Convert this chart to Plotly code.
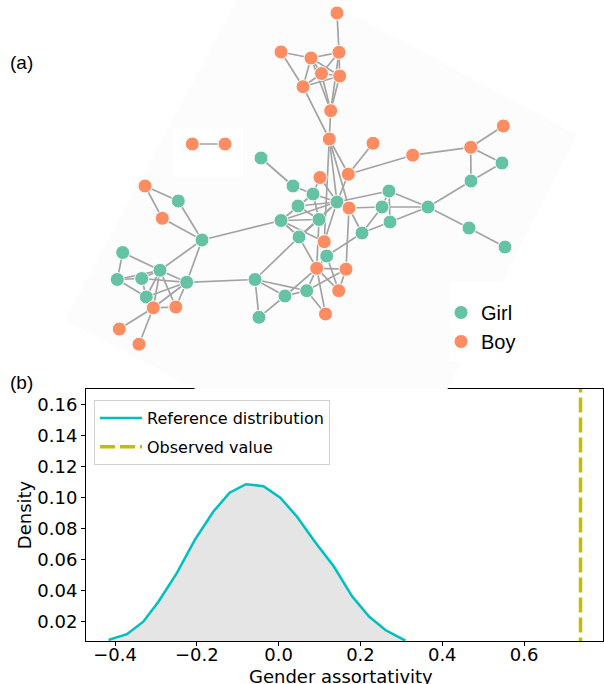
import plotly.graph_objects as go

# ---------------- Panel (a): network data ----------------
girl_names = ["G1","G2","G3","G4","G5","G6","G7","G8","G9","G10","G11","G12","G13","G14","G15",
              "G16","G17","G18","G19","G20","G21","G22","G23","G24","G25","G26","G27","G28","G29","G30"]
girl_x = [261,502,471,428,469,505,293,313,298,337,389,382,390,281,319,
          362,299,326.7,255,285,306.7,259,178.3,202,122.7,160,117.3,141.7,186.7,146.3]
girl_y = [158,163,181,207,228,247,186,194,206,202,191,207,222,220.5,219.5,
          233,237,256,279.5,296,290.7,317.3,201,240,252.5,270.3,279.5,278.5,282.3,297]

boy_names = ["B0","B1","B2","B3","B4","B5","B6","B7","B8","B9","B10","B11","B12","B13","B14",
             "B15","B16","B17","B18","B19","B20","B21","B22","B23","B24","B25","B26","P1","P2"]
boy_x = [337,281,311,339,321.5,339.7,303,330.7,329.3,320,373,412.7,470.7,503.3,348.3,
         349,324.2,316.7,346,338.7,325.5,145,162.3,153.3,175.8,119.3,139,192.3,225]
boy_y = [13,52,58,52.3,73.5,76,86.7,110.7,139,177.5,143.3,155.2,147.3,126,174.2,
         208,241.7,268.3,269.2,290.7,314,186,218.3,307.8,307,329,344.2,144,144]

edges = [
    ("B0","B3"),("B1","B2"),("B1","B6"),("B2","B3"),("B2","B4"),("B2","B5"),("B2","B6"),
    ("B3","B4"),("B3","B5"),("B4","B5"),("B4","B6"),("B5","B6"),("B4","B7"),("B5","B7"),
    ("B2","B7"),("B3","B7"),("B7","B8"),("B6","B8"),
    ("B8","G10"),("B8","B15"),("B8","B14"),("B8","B16"),
    ("B10","B14"),("B11","B14"),("B14","G10"),("B9","G8"),("B9","G10"),
    ("G1","G7"),("G7","G8"),("G8","G10"),("G8","G14"),("G8","G15"),("G9","G10"),("G9","G15"),
    ("G14","G10"),("G14","G15"),("G14","G17"),("G14","G24"),("G10","G15"),("G10","G17"),
    ("G10","G11"),("G10","B15"),("G15","G17"),("G15","B17"),("G17","B17"),("G17","G19"),
    ("B16","G10"),("B16","G14"),("B16","G18"),
    ("G11","G12"),("G11","G13"),("G11","G4"),("G12","G4"),("G13","G4"),("G12","B15"),
    ("G12","G16"),("G13","G16"),("G16","B15"),("G16","G18"),("B15","B18"),
    ("G18","B17"),("G18","B19"),("B17","B18"),("B17","B19"),("B17","B20"),("B17","G20"),
    ("B17","G21"),("B18","B19"),("B18","G21"),("B20","G21"),
    ("G19","G20"),("G19","G21"),("G19","G22"),("G19","G29"),("G20","G21"),("G20","G22"),
    ("G3","G4"),("G4","G5"),("G5","G6"),("B12","G3"),("B12","G2"),("G2","G3"),
    ("B12","B13"),("B11","B12"),
    ("B21","G23"),("B21","B22"),("G23","G24"),("B22","G24"),("G24","G26"),("G24","G29"),
    ("G25","G26"),("G25","G27"),("G27","G28"),("G27","G26"),("G27","G30"),("G28","G26"),
    ("G28","G29"),("G28","G30"),("G26","G30"),("G26","B23"),("G26","B24"),("G26","G29"),
    ("G29","B23"),("G29","B24"),("G29","G30"),("B23","B24"),("B23","B25"),("B23","B26"),
    ("G30","B23"),("P1","P2"),
]

# ---------------- Panel (b): density data ----------------
ref_x = [-0.416, -0.371, -0.331, -0.294, -0.249, -0.205, -0.160, -0.120, -0.080,
         -0.037, 0.004, 0.045, 0.089, 0.135, 0.180, 0.221, 0.261, 0.310]
ref_y = [0.0082, 0.0119, 0.0200, 0.0329, 0.0513, 0.0728, 0.0910, 0.1033, 0.1088,
         0.1075, 0.1001, 0.0878, 0.0715, 0.0556, 0.0362, 0.0233, 0.0146, 0.0077]
observed_value = 0.738
x_ticks = [-0.4, -0.2, 0.0, 0.2, 0.4, 0.6]
y_ticks = [0.02, 0.04, 0.06, 0.08, 0.10, 0.12, 0.14, 0.16]
x_range = [-0.471, 0.793]
y_range = [0.0075, 0.1703]

W, H = 604, 684
NET_BOTTOM = 389  # px

pos = {}
for n, x, y in zip(girl_names, girl_x, girl_y):
    pos[n] = (x, y)
for n, x, y in zip(boy_names, boy_x, boy_y):
    pos[n] = (x, y)

ex, ey = [], []
for a, b in edges:
    ex += [pos[a][0], pos[b][0], None]
    ey += [pos[a][1], pos[b][1], None]

fig = go.Figure()

fig.add_trace(go.Scatter(x=ex, y=ey, mode="lines", line=dict(color="#a3a3a3", width=1.7),
                         hoverinfo="skip", showlegend=False, xaxis="x2", yaxis="y2"))
fig.add_trace(go.Scatter(x=girl_x, y=girl_y, mode="markers", name="Girl",
                         marker=dict(color="#66c2a5", size=14, line=dict(color="white", width=1)),
                         xaxis="x2", yaxis="y2", legend="legend2"))
fig.add_trace(go.Scatter(x=boy_x, y=boy_y, mode="markers", name="Boy",
                         marker=dict(color="#fc8d62", size=14, line=dict(color="white", width=1)),
                         xaxis="x2", yaxis="y2", legend="legend2"))

fig.add_trace(go.Scatter(x=ref_x, y=ref_y, mode="lines", line=dict(width=0),
                         fill="tozeroy", fillcolor="#e5e5e5", showlegend=False,
                         hoverinfo="skip"))
fig.add_trace(go.Scatter(x=ref_x, y=ref_y, mode="lines", name="Reference distribution",
                         legendgroup="ref", line=dict(color="#00bfbf", width=2.5)))
fig.add_trace(go.Scatter(x=[observed_value, observed_value], y=[0, 1], mode="lines",
                         name="Observed value", legendgroup="obs",
                         line=dict(color="#bfbf00", width=3.5, dash="15px,5px")))

axis_font = dict(family="DejaVu Sans", size=18, color="black")

fig.update_layout(
    width=W, height=H,
    margin=dict(l=0, r=0, t=0, b=0),
    paper_bgcolor="white", plot_bgcolor="white",
    xaxis=dict(domain=[86 / W, 603 / W], range=x_range, tickvals=x_ticks, tickformat=".1f",
               ticks="outside", ticklen=4, tickcolor="black", showline=True, linecolor="black",
               linewidth=1, mirror=True, showgrid=False, zeroline=False, tickfont=axis_font,
               ticklabelstandoff=-7, automargin=False),
    yaxis=dict(domain=[(H - 641) / H, (H - NET_BOTTOM) / H], range=y_range, tickvals=y_ticks,
               tickformat=".2f", ticks="outside", ticklen=4, tickcolor="black", showline=True,
               linecolor="black", linewidth=1, mirror=True, showgrid=False, zeroline=False,
               tickfont=axis_font, title=dict(text="Density", font=axis_font, standoff=1),
               automargin=False),
    xaxis2=dict(domain=[0, 1], range=[0, W], visible=False, anchor="y2"),
    yaxis2=dict(domain=[(H - NET_BOTTOM) / H, 1], range=[NET_BOTTOM, 0], visible=False,
                anchor="x2"),
    legend=dict(x=94 / W, y=(H - 400) / H, xanchor="left", yanchor="top",
                bgcolor="white", bordercolor="#d0d0d0", borderwidth=1,
                traceorder="grouped", tracegroupgap=5, itemwidth=42,
                font=dict(family="DejaVu Sans", size=16, color="black")),
    legend2=dict(x=441 / W, y=(H - 293) / H, xanchor="left", yanchor="top",
                 bgcolor="rgba(0,0,0,0)", borderwidth=0,
                 font=dict(family="Liberation Sans", size=20, color="black")),
    showlegend=True,
)

# faint background of the network drawing and white patches
fig.add_shape(type="path", path="M 257 -37 L 577 135 L 394 494 L 65 320 Z",
              xref="x2", yref="y2", fillcolor="#fcfcfc", line=dict(width=0), layer="below")
fig.add_shape(type="rect", x0=174, x1=243, y0=128, y1=177, xref="x2", yref="y2",
              fillcolor="white", line=dict(width=0), layer="below")
fig.add_shape(type="rect", x0=449, x1=600, y0=282, y1=362, xref="x2", yref="y2",
              fillcolor="white", line=dict(width=0), layer="below")

# x-axis title (placed as annotation so it sits just below the tick labels)
fig.add_annotation(text="Gender assortativity", x=(86 + 603) / 2 / W - 0.005,
                   y=(H - 664) / H, xref="paper", yref="paper", xanchor="center",
                   yanchor="top", showarrow=False, font=axis_font)

fig.add_annotation(text="(a)", x=8 / W, y=(H - 62) / H, xref="paper", yref="paper",
                   xanchor="left", yanchor="middle", showarrow=False,
                   font=dict(family="Liberation Sans", size=19, color="black"))
fig.add_annotation(text="(b)", x=8 / W, y=(H - 382) / H, xref="paper", yref="paper",
                   xanchor="left", yanchor="middle", showarrow=False,
                   font=dict(family="Liberation Sans", size=19, color="black"))

fig.write_html("out.html", config={"displayModeBar": False},
               post_script="document.body.style.margin='0';document.body.style.overflow='hidden';")
